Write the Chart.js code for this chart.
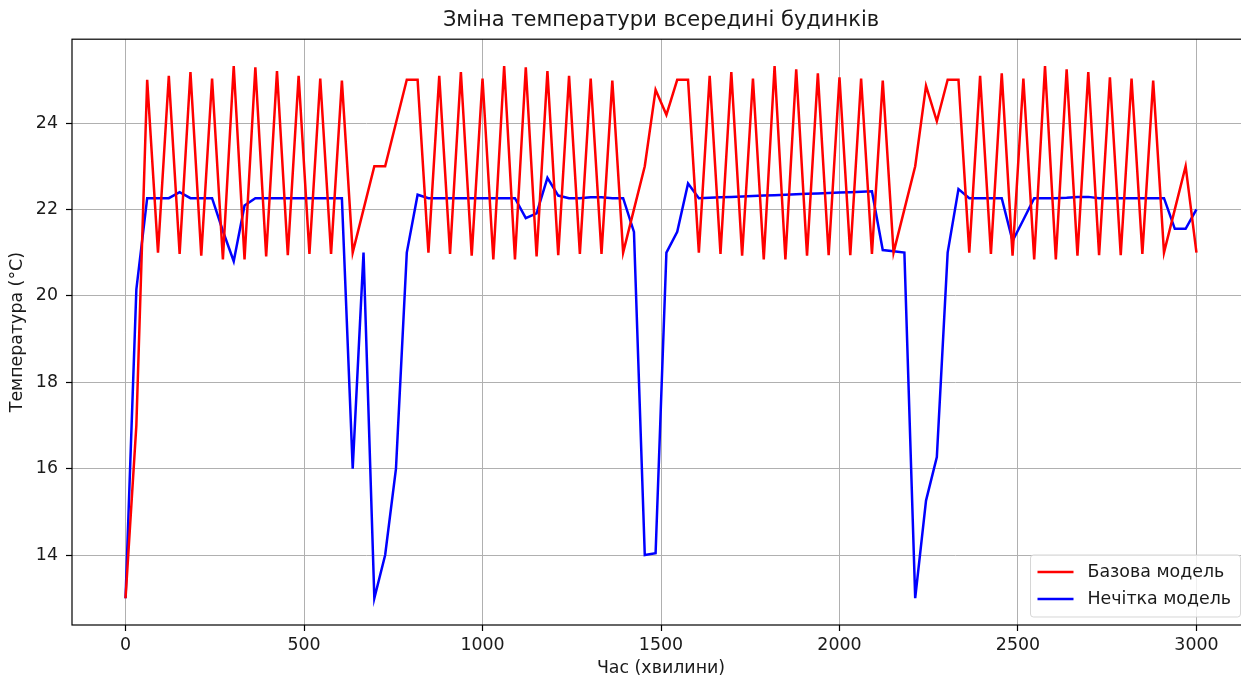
<!DOCTYPE html>
<html>
<head>
<meta charset="utf-8">
<title>Зміна температури всередині будинків</title>
<script src="https://cdn.jsdelivr.net/npm/chart.js@4.4.1/dist/chart.umd.min.js"></script>
<style>
    html, body { margin: 0; padding: 0; overflow: hidden; background: #fff; }
    canvas { display: block; }
</style>
</head>
<body>
<canvas id="tempChart" width="1250" height="679"></canvas>
<script>

// readings every 3000/99 minutes, 100 points
const timeStep = 3000 / 99;

const baseModel = [
    13.0, 17.0, 25.0, 21.0, 25.09, 20.97, 25.18, 20.93, 25.03, 20.84,
    25.32, 20.84, 25.29, 20.91, 25.2, 20.94, 25.09, 20.97, 25.03, 20.97,
    24.98, 21.0, 22.0, 23.0, 23.0, 24.0, 25.0, 25.0, 21.0, 25.09,
    20.97, 25.18, 20.93, 25.03, 20.84, 25.32, 20.84, 25.29, 20.91, 25.2,
    20.94, 25.09, 20.97, 25.03, 20.97, 24.98, 21.0, 22.0, 23.0, 24.77,
    24.19, 25.0, 25.0, 21.0, 25.09, 20.97, 25.18, 20.93, 25.03, 20.84,
    25.32, 20.84, 25.24, 20.93, 25.15, 20.94, 25.06, 20.94, 25.03, 20.97,
    24.98, 21.0, 22.0, 23.0, 24.86, 24.04, 25.0, 25.0, 21.0, 25.09,
    20.97, 25.15, 20.93, 25.03, 20.84, 25.32, 20.84, 25.24, 20.93, 25.18,
    20.94, 25.06, 20.94, 25.03, 20.97, 24.98, 21.0, 22.0, 23.0, 21.0
];

const fuzzyModel = [
    13.0, 20.15, 22.26, 22.26, 22.26, 22.40, 22.26, 22.26, 22.26, 21.5,
    20.8, 22.09, 22.26, 22.26, 22.26, 22.26, 22.26, 22.26, 22.26, 22.26,
    22.26, 16.0, 21.0, 13.0, 14.0, 16.0, 21.0, 22.34, 22.26, 22.26,
    22.26, 22.26, 22.26, 22.26, 22.26, 22.26, 22.26, 21.8, 21.91, 22.73,
    22.32, 22.26, 22.26, 22.28, 22.28, 22.26, 22.26, 21.48, 14.0, 14.04,
    21.0, 21.48, 22.6, 22.26, 22.27, 22.28, 22.29, 22.30, 22.31, 22.32,
    22.33, 22.34, 22.35, 22.36, 22.37, 22.38, 22.39, 22.40, 22.41, 22.42,
    21.06, 21.03, 21.0, 13.0, 15.26, 16.27, 21.0, 22.47, 22.26, 22.26,
    22.26, 22.26, 21.27, 21.76, 22.26, 22.26, 22.26, 22.27, 22.29, 22.29,
    22.26, 22.26, 22.26, 22.26, 22.26, 22.26, 22.26, 21.55, 21.55, 22.0
];

const seriesNames = ['Базова модель', 'Нечітка модель'];
const seriesColors = ['#ff0000', '#0000ff'];
const xTicks = [0, 500, 1000, 1500, 2000, 2500, 3000];
const yTicks = [14, 16, 18, 20, 22, 24];

const FONT = '"DejaVu Sans", sans-serif';
const TEXT_COLOR = '#1a1a1a';
const LABEL_SIZE = 17.4;

function toPoints(values){
    return values.map((v, i) => ({ x: i * timeStep, y: v }));
}

//frame around the plot + legend in lower right corner
const framePlugin = {
    id: 'frameAndLegend',
    afterDraw(chart) {
        const ctx = chart.ctx;
        const area = chart.chartArea;
        ctx.save();
        ctx.strokeStyle = '#000';
        ctx.lineWidth = 1.2;
        ctx.strokeRect(area.left, area.top, area.right - area.left, area.bottom - area.top);

        const w = 210, h = 62;
        const bx = area.right - 9.5 - w;
        const by = area.bottom - 8 - h;
        ctx.fillStyle = 'rgba(255,255,255,0.8)';
        ctx.strokeStyle = 'rgba(204,204,204,0.8)';
        ctx.lineWidth = 1;
        ctx.beginPath();
        ctx.roundRect(bx, by, w, h, 3);
        ctx.fill();
        ctx.stroke();

        ctx.font = LABEL_SIZE + 'px ' + FONT;
        ctx.textBaseline = 'middle';
        ctx.textAlign = 'left';
        seriesNames.forEach(function(name, i){
            const ly = by + 17 + i * 27;
            ctx.strokeStyle = seriesColors[i];
            ctx.lineWidth = 2.5;
            ctx.beginPath();
            ctx.moveTo(bx + 7, ly);
            ctx.lineTo(bx + 43, ly);
            ctx.stroke();
            ctx.fillStyle = TEXT_COLOR;
            ctx.fillText(name, bx + 57, ly);
        });
        ctx.restore();
    }
};

const ctx = document.getElementById('tempChart').getContext('2d');
const tempChart = new Chart(ctx, {
    type: 'line',
    data: {
        datasets: [
            {
                label: seriesNames[0],
                data: toPoints(baseModel),
                borderColor: seriesColors[0],
                backgroundColor: seriesColors[0],
                borderWidth: 2.5,
                pointRadius: 0,
                tension: 0,
                fill: false
            },
            {
                label: seriesNames[1],
                data: toPoints(fuzzyModel),
                borderColor: seriesColors[1],
                backgroundColor: seriesColors[1],
                borderWidth: 2.5,
                pointRadius: 0,
                tension: 0,
                fill: false
            }
        ]
    },
    options: {
        responsive: false,
        animation: false,
        devicePixelRatio: 1,
        layout: { padding: 0 },
        plugins: {
            legend: { display: false },
            tooltip: { enabled: false },
            title: {
                display: true,
                fullSize: false,
                text: 'Зміна температури всередині будинків',
                color: TEXT_COLOR,
                font: { family: FONT, size: 21, weight: 'normal' },
                padding: { top: 8, bottom: 6 }
            }
        },
        scales: {
            x: {
                type: 'linear',
                min: -150,
                max: 3150,
                afterBuildTicks: s => { s.ticks = xTicks.map(v => ({ value: v })); },
                afterFit: s => { s.height = 54; },
                border: { display: false },
                grid: {
                    color: '#b0b0b0',
                    lineWidth: 1,
                    tickColor: '#000',
                    tickLength: 6,
                    tickWidth: 1.2
                },
                ticks: {
                    color: TEXT_COLOR,
                    font: { family: FONT, size: LABEL_SIZE },
                    padding: 4,
                    maxRotation: 0,
                    callback: v => String(v)
                },
                title: {
                    display: true,
                    text: 'Час (хвилини)',
                    color: TEXT_COLOR,
                    font: { family: FONT, size: LABEL_SIZE },
                    padding: { top: 0, bottom: 0 }
                }
            },
            y: {
                min: 12.38,
                max: 25.94,
                afterBuildTicks: s => { s.ticks = yTicks.map(v => ({ value: v })); },
                afterFit: s => { s.width = 72; },
                border: { display: false },
                grid: {
                    color: '#b0b0b0',
                    lineWidth: 1,
                    tickColor: '#000',
                    tickLength: 6,
                    tickWidth: 1.2
                },
                ticks: {
                    color: TEXT_COLOR,
                    font: { family: FONT, size: LABEL_SIZE },
                    padding: 8,
                    callback: v => String(v)
                },
                title: {
                    display: true,
                    text: 'Температура (°C)',
                    color: TEXT_COLOR,
                    font: { family: FONT, size: LABEL_SIZE },
                    padding: { top: 7, bottom: 0 }
                }
            }
        }
    },
    plugins: [framePlugin]
});

</script>
</body>
</html>
